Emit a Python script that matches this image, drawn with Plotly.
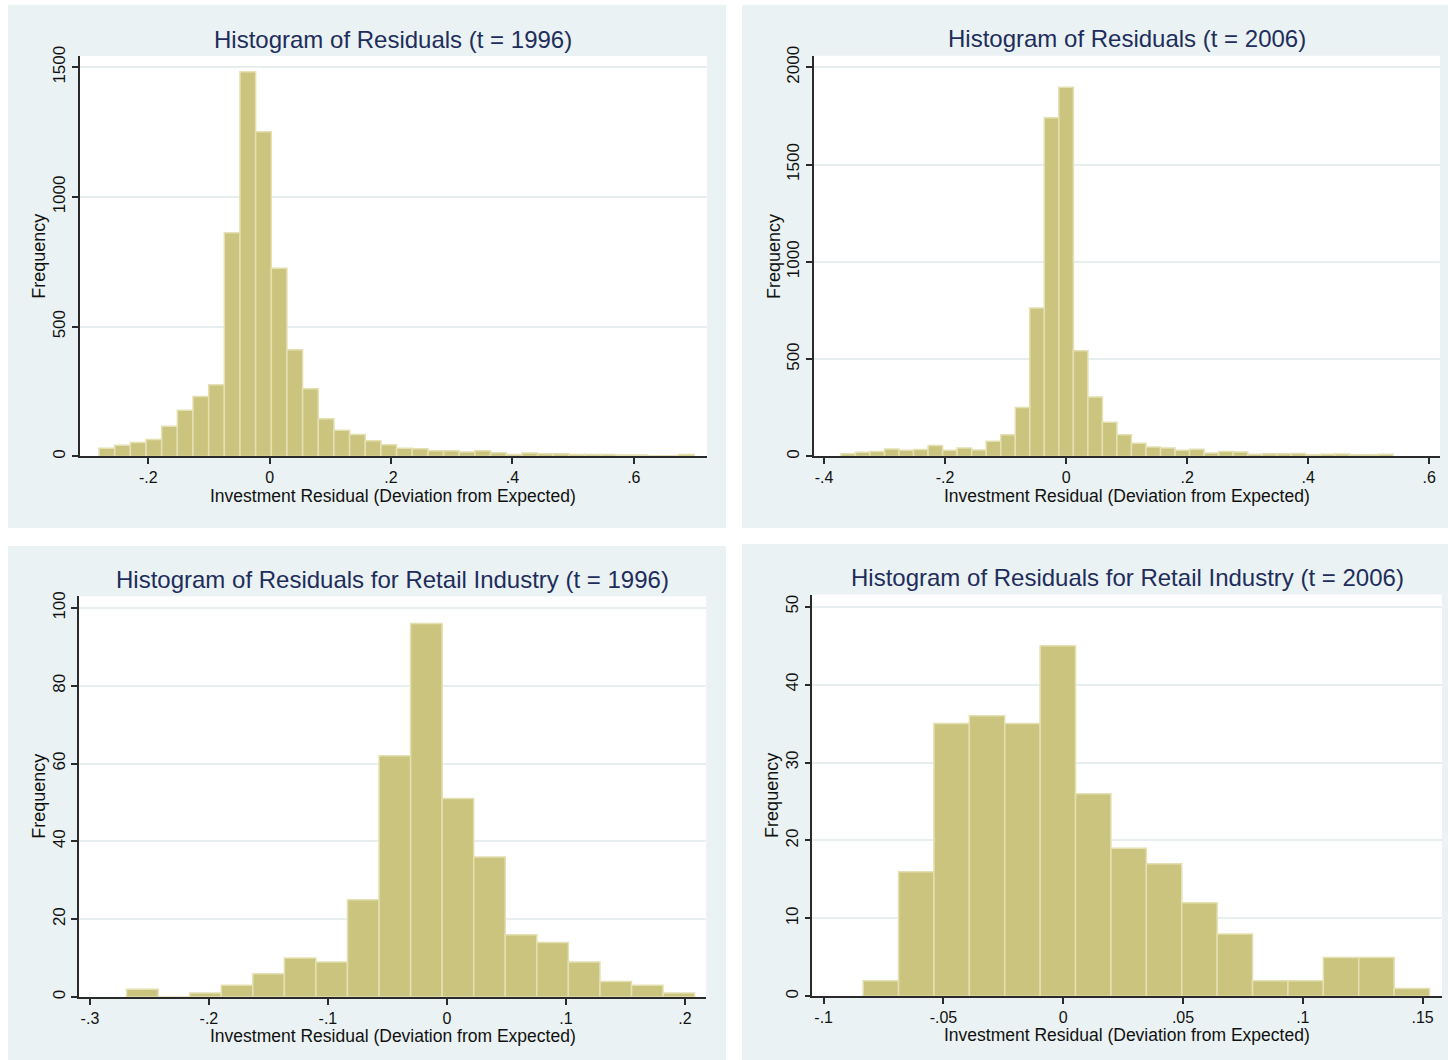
import numpy as np
import plotly.graph_objects as go

W, H = 1448, 1060

# ---------------- data ----------------
titles = [
    "Histogram of Residuals (t = 1996)",
    "Histogram of Residuals (t = 2006)",
    "Histogram of Residuals for Retail Industry (t = 1996)",
    "Histogram of Residuals for Retail Industry (t = 2006)",
]
x_title = "Investment Residual (Deviation from Expected)"
y_title = "Frequency"

# histogram bins: first bin edge, bin width, frequencies
p1_start, p1_width = -0.281, 0.0258
p1_counts = [32, 43, 54, 65, 116, 178, 231, 276, 862, 1483, 1251, 725, 411, 261,
             145, 101, 85, 61, 45, 32, 30, 22, 22, 17, 22, 14, 8, 13, 10, 10,
             8, 8, 8, 6, 6, 3, 3, 8]

p2_start, p2_width = -0.372, 0.024
p2_counts = [14, 21, 25, 38, 32, 36, 56, 32, 44, 33, 78, 112, 252, 763, 1741, 1897,
             543, 305, 176, 111, 68, 49, 44, 32, 37, 18, 25, 23, 12, 14, 14, 15,
             9, 11, 13, 9, 9, 11]

p3_start, p3_width = -0.2692, 0.02652
p3_counts = [2, 0, 1, 3, 6, 10, 9, 25, 62, 96, 51, 36, 16, 14, 9, 4, 3, 1]

p4_start, p4_width = -0.08352, 0.014776
p4_counts = [2, 16, 35, 36, 35, 45, 26, 19, 17, 12, 8, 2, 2, 5, 5, 1]

p1_xticks = [-0.2, 0, 0.2, 0.4, 0.6]
p1_xtext = ["-.2", "0", ".2", ".4", ".6"]
p1_yticks = [0, 500, 1000, 1500]

p2_xticks = [-0.4, -0.2, 0, 0.2, 0.4, 0.6]
p2_xtext = ["-.4", "-.2", "0", ".2", ".4", ".6"]
p2_yticks = [0, 500, 1000, 1500, 2000]

p3_xticks = [-0.3, -0.2, -0.1, 0, 0.1, 0.2]
p3_xtext = ["-.3", "-.2", "-.1", "0", ".1", ".2"]
p3_yticks = [0, 20, 40, 60, 80, 100]

p4_xticks = [-0.1, -0.05, 0, 0.05, 0.1, 0.15]
p4_xtext = ["-.1", "-.05", "0", ".05", ".1", ".15"]
p4_yticks = [0, 10, 20, 30, 40, 50]

# ---------------- layout / style ----------------
FONT = "Liberation Sans, Arial, Helvetica, sans-serif"
BAR_FILL = "#CBC47E"
BAR_LINE = "#E4E0B2"
PANEL_BG = "#EAF2F3"
GRID = "#E6EEF0"
AXIS = "#2a2a2a"
TITLE_COL = "#1E2D5C"


def py(y):
    """screen pixel row -> paper fraction (renderer places the paper slightly offset)"""
    return 1 - ((y - 10) / 0.987) / H


def px(x):
    return x / W


panels = [(8, 726, 5, 527), (742, 1448, 5, 527), (8, 726, 545, 1062), (742, 1448, 543, 1062)]
areas = [(79.5, 707, 56, 455.7), (813.8, 1440, 55.7, 455.7),
         (79.1, 706.2, 595.3, 995.3), (812.4, 1442, 593.6, 994.7)]
xranges = [[-0.3132, 0.7206], [-0.4168, 0.6177], [-0.3091, 0.2179], [-0.1047, 0.1581]]
yranges = [[0, 1543], [0, 2059], [0, 103.0], [0, 51.55]]

hist = [(p1_start, p1_width, p1_counts), (p2_start, p2_width, p2_counts),
        (p3_start, p3_width, p3_counts), (p4_start, p4_width, p4_counts)]
xticks = [(p1_xticks, p1_xtext), (p2_xticks, p2_xtext), (p3_xticks, p3_xtext), (p4_xticks, p4_xtext)]
yticks = [p1_yticks, p2_yticks, p3_yticks, p4_yticks]

fig = go.Figure()
shapes = []
annotations = []
layout = {}

for i in range(4):
    start, width, counts = hist[i]
    centers = start + width * (np.arange(len(counts)) + 0.5)
    sfx = "" if i == 0 else str(i + 1)
    fig.add_trace(go.Bar(
        x=centers, y=counts, width=width,
        marker=dict(color=BAR_FILL, line=dict(color=BAR_LINE, width=1.5)),
        xaxis="x" + sfx, yaxis="y" + sfx, showlegend=False, hoverinfo="skip",
    ))
    x0, x1, yt, yb = areas[i]
    layout["xaxis" + sfx] = dict(
        domain=[px(x0), px(x1)], range=xranges[i], anchor="y" + sfx,
        tickmode="array", tickvals=xticks[i][0], ticktext=xticks[i][1],
        ticks="outside", ticklen=6, tickwidth=1.5, tickcolor=AXIS,
        showline=True, linecolor=AXIS, linewidth=1.5,
        showgrid=False, zeroline=False,
        tickfont=dict(family=FONT, size=16, color="#111"),
    )
    layout["yaxis" + sfx] = dict(
        domain=[py(yb), py(yt)], range=yranges[i], anchor="x" + sfx,
        tickmode="array", tickvals=yticks[i],
        ticks="outside", ticklen=6, tickwidth=1.5, tickcolor=AXIS,
        showline=True, linecolor=AXIS, linewidth=1.5,
        showgrid=True, gridcolor=GRID, gridwidth=2, zeroline=False,
        tickangle=-90,
        tickfont=dict(family=FONT, size=17, color="#111"),
    )
    bx0, bx1, by0, by1 = panels[i]
    shapes.append(dict(type="rect", xref="paper", yref="paper",
                       x0=px(bx0), x1=px(bx1), y0=py(by1), y1=py(by0),
                       fillcolor=PANEL_BG, line=dict(width=0), layer="below"))
    shapes.append(dict(type="rect", xref="paper", yref="paper",
                       x0=px(x0), x1=px(x1), y0=py(yb), y1=py(yt),
                       fillcolor="white", line=dict(width=0), layer="below"))
    cx = px((x0 + x1) / 2)
    annotations.append(dict(text=titles[i], x=cx, y=py(yt - 17), xref="paper", yref="paper",
                            xanchor="center", yanchor="middle", showarrow=False,
                            font=dict(family=FONT, size=24, color=TITLE_COL)))
    annotations.append(dict(text=x_title, x=cx, y=py(yb + 39), xref="paper", yref="paper",
                            xanchor="center", yanchor="middle", showarrow=False,
                            font=dict(family=FONT, size=17.5, color="#111")))
    annotations.append(dict(text=y_title, x=px(x0 - 40), y=py((yt + yb) / 2),
                            xref="paper", yref="paper", textangle=-90,
                            xanchor="center", yanchor="middle", showarrow=False,
                            font=dict(family=FONT, size=18, color="#111")))

fig.update_layout(
    width=W, height=H, margin=dict(l=0, r=0, t=0, b=0),
    paper_bgcolor="white", plot_bgcolor="rgba(0,0,0,0)",
    shapes=shapes, annotations=annotations, barmode="overlay",
    **layout,
)

fig.write_html("out.html")
